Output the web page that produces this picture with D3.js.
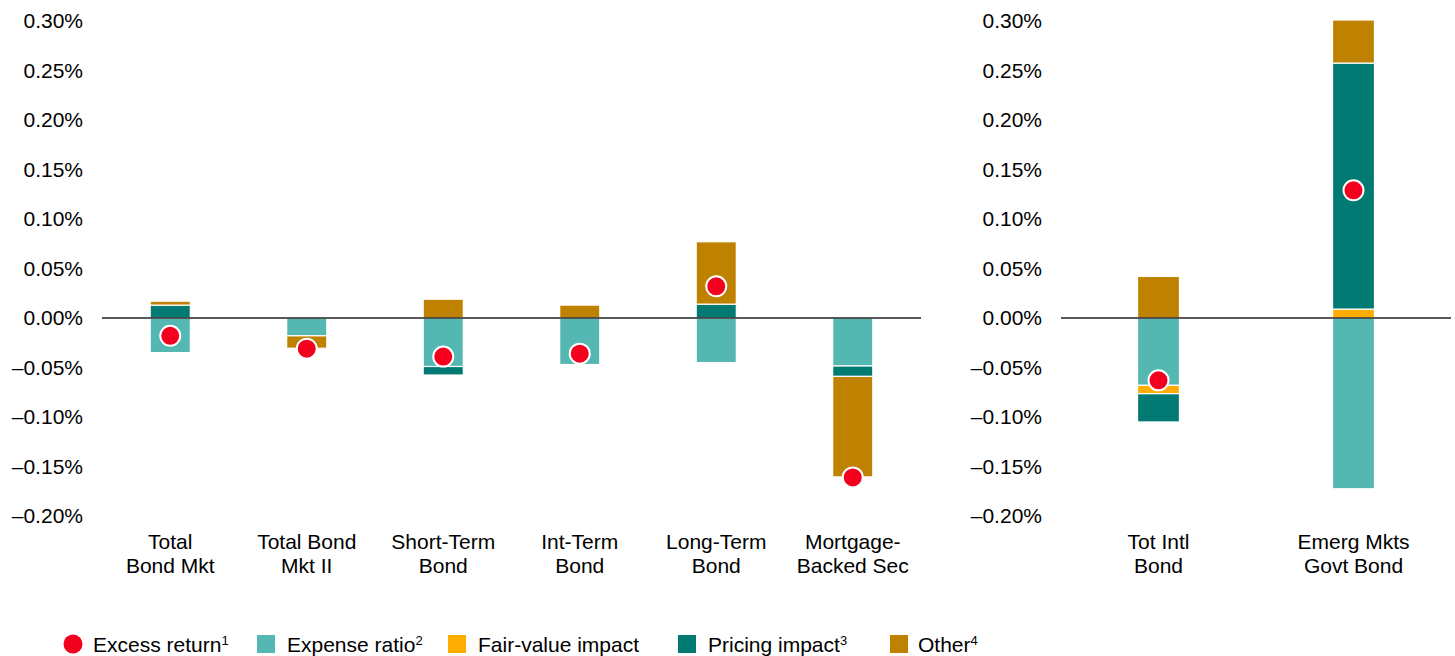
<!DOCTYPE html>
<html>
<head>
<meta charset="utf-8">
<script src="https://cdn.jsdelivr.net/npm/d3@7"></script>
<style>
body { margin: 0; background: #fff; }
svg text { font-family: "Liberation Sans", Arial, sans-serif; fill: #000; }
</style>
</head>
<body>
<svg width="1455" height="656"></svg>
<script>
// values in percent
var leftCategories = ["Total\nBond Mkt", "Total Bond\nMkt II", "Short-Term\nBond", "Int-Term\nBond", "Long-Term\nBond", "Mortgage-\nBacked Sec"];
var leftExpense   = [-0.035, -0.018, -0.049, -0.047, -0.045, -0.0485];
var leftFairValue = [0, 0, 0, 0, 0, 0];
var leftPricing   = [0.013, 0, -0.0086, 0, 0.014, -0.0105];
var leftOther     = [0.004, -0.0125, 0.019, 0.013, 0.063, -0.1015];
var leftExcess    = [-0.018, -0.031, -0.039, -0.036, 0.032, -0.161];

var rightCategories = ["Tot Intl\nBond", "Emerg Mkts\nGovt Bond"];
var rightExpense   = [-0.068, -0.1725];
var rightFairValue = [-0.0085, 0.009];
var rightPricing   = [-0.0285, 0.2485];
var rightOther     = [0.042, 0.0435];
var rightExcess    = [-0.063, 0.129];

var yTicks = [0.30, 0.25, 0.20, 0.15, 0.10, 0.05, 0.00, -0.05, -0.10, -0.15, -0.20];

var keys = ["expense", "fairValue", "pricing", "other"];
var colors = {expense: "#54b7b1", fairValue: "#ffad00", pricing: "#007a73", other: "#bf8200"};
var excessColor = "#f3001f";

var legendItems = [
  {key: "excess", label: "Excess return", sup: "1"},
  {key: "expense", label: "Expense ratio", sup: "2"},
  {key: "fairValue", label: "Fair-value impact", sup: ""},
  {key: "pricing", label: "Pricing impact", sup: "3"},
  {key: "other", label: "Other", sup: "4"}
];

var svg = d3.select("svg");
var yScale = d3.scaleLinear().domain([-0.20, 0.30]).range([516, 21]);
var fmt = function(d) { return d3.format(".2f")(Math.abs(d)) + "%"; };
var tickFmt = function(d) { return (d < -1e-9 ? "\u2013" : "") + fmt(d); };

function drawPanel(cats, expense, fair, pricing, other, excess, range, padInner, axisX) {
  var data = cats.map(function(c, i) {
    return {cat: c, expense: expense[i], fairValue: fair[i], pricing: pricing[i], other: other[i], excess: excess[i]};
  });

  var xScale = d3.scaleBand().domain(cats).range(range)
    .paddingInner(padInner).paddingOuter(padInner / 2);

  var axis = svg.append("g")
    .attr("transform", "translate(" + axisX + ",0)")
    .call(d3.axisLeft(yScale).tickValues(yTicks).tickSize(0).tickPadding(0).tickFormat(tickFmt));
  axis.select(".domain").remove();
  axis.selectAll("text").attr("font-size", 21).attr("font-family", "Liberation Sans, Arial, sans-serif");

  var series = d3.stack().keys(keys).offset(d3.stackOffsetDiverging)(data);

  var g = svg.append("g");
  g.selectAll("g.layer")
    .data(series)
    .enter()
    .append("g")
    .attr("class", "layer")
    .attr("fill", function(s) { return colors[s.key]; })
    .selectAll("rect")
    .data(function(s) { return s.filter(function(d) { return d[1] - d[0] !== 0; }); })
    .enter()
    .append("rect")
    .attr("x", function(d) { return xScale(d.data.cat); })
    .attr("width", xScale.bandwidth())
    .attr("y", function(d) { return yScale(Math.max(d[0], d[1])); })
    .attr("height", function(d) { return Math.abs(yScale(d[0]) - yScale(d[1])); })
    .attr("stroke", "#fff")
    .attr("stroke-width", 1.2);

  // zero line
  svg.append("line")
    .attr("x1", range[0]).attr("x2", range[1])
    .attr("y1", yScale(0)).attr("y2", yScale(0))
    .attr("stroke", "#222").attr("stroke-width", 1.5);

  svg.selectAll(null)
    .data(data)
    .enter()
    .append("circle")
    .attr("cx", function(d) { return xScale(d.cat) + xScale.bandwidth() / 2; })
    .attr("cy", function(d) { return yScale(d.excess); })
    .attr("r", 10)
    .attr("fill", excessColor)
    .attr("stroke", "#fff")
    .attr("stroke-width", 2);

  var labels = svg.selectAll(null)
    .data(data)
    .enter()
    .append("text")
    .attr("text-anchor", "middle")
    .attr("font-size", 21)
    .attr("x", function(d) { return xScale(d.cat) + xScale.bandwidth() / 2; })
    .attr("y", 549);
  labels.selectAll("tspan")
    .data(function(d) { return d.cat.split("\n").map(function(t) { return {t: t, x: xScale(d.cat) + xScale.bandwidth() / 2}; }); })
    .enter()
    .append("tspan")
    .attr("x", function(d) { return d.x; })
    .attr("dy", function(d, i) { return i === 0 ? 0 : 24; })
    .text(function(d) { return d.t; });
}

drawPanel(leftCategories, leftExpense, leftFairValue, leftPricing, leftOther, leftExcess, [102, 921], 0.706, 83);
drawPanel(rightCategories, rightExpense, rightFairValue, rightPricing, rightOther, rightExcess, [1061, 1451], 0.785, 1042);

// legend
var legendX = [73, 257, 448, 678, 890];
var legendTextX = [93, 287, 478, 708, 918];
var lg = svg.append("g");
legendItems.forEach(function(item, i) {
  if (item.key === "excess") {
    lg.append("circle").attr("cx", legendX[i]).attr("cy", 644).attr("r", 9.5).attr("fill", excessColor);
  } else {
    lg.append("rect").attr("x", legendX[i]).attr("y", 635).attr("width", 18).attr("height", 18).attr("fill", colors[item.key]);
  }
  var t = lg.append("text").attr("x", legendTextX[i]).attr("y", 652).attr("font-size", 21).text(item.label);
  if (item.sup) {
    t.append("tspan").attr("font-size", 13).attr("dy", -7).text(item.sup);
  }
});
</script>
</body>
</html>
